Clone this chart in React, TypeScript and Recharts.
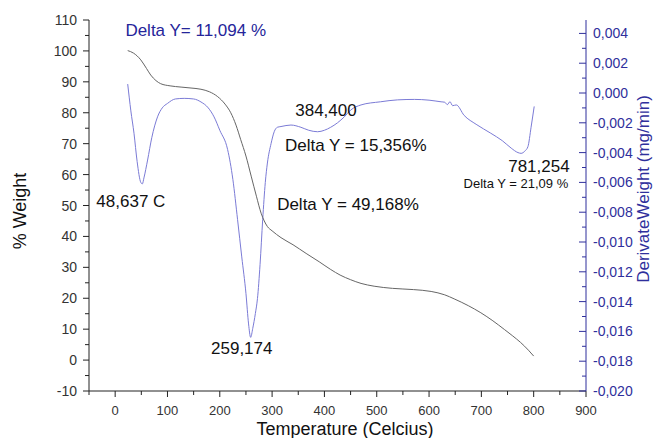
import React from "react";
import { ComposedChart, Line, XAxis, YAxis, ReferenceDot } from "recharts";

// TGA curve (% weight vs temperature)
const tgaTemp = [24, 35, 49, 60, 68, 78, 87, 105, 126, 145, 164, 180, 196, 210, 221, 231, 240, 250, 260, 270, 279, 285, 291, 300, 317, 340, 365, 390, 412, 430, 450, 470, 495, 530, 570, 604, 630, 648, 675, 699, 722, 744, 760, 775, 790, 800];
const tgaWeight = [100.1, 99.3, 97.1, 94.3, 92.2, 90.4, 89.4, 88.7, 88.3, 88, 87.6, 86.8, 85.2, 82.8, 80, 76, 71.3, 66, 59.5, 53, 47.5, 45, 43.2, 41.8, 39.6, 37.3, 34.5, 31.8, 29.3, 27.5, 26, 24.8, 23.9, 23.2, 22.8, 22.2, 21.1, 19.8, 17.6, 15.3, 12.7, 9.9, 7.8, 5.7, 3.2, 1.3];

// DTG curve (derivative weight, mg/min)
const dtgTemp = [24, 30, 36, 42, 49, 52, 55, 62, 70, 81, 90, 100, 115, 132, 150, 164, 178, 189, 200, 215, 225, 234, 242, 250, 255, 259, 263, 268, 272, 277, 282, 287, 291, 298, 304, 310, 317, 336, 355, 370, 387, 400, 412, 425, 438, 450, 470, 507, 540, 572, 600, 623, 630, 635, 640, 645, 652, 667, 690, 718, 740, 757, 770, 776, 783, 789, 795, 801];
const dtgValue = [0.0006, -0.0012, -0.0027, -0.0046, -0.006, -0.0061, -0.0057, -0.0045, -0.003, -0.0016, -0.001, -0.0007, -0.0004, -0.00036, -0.0004, -0.0006, -0.001, -0.0016, -0.0025, -0.0038, -0.0058, -0.0085, -0.011, -0.01345, -0.0155, -0.0164, -0.0158, -0.0148, -0.0138, -0.0115, -0.0085, -0.006, -0.0047, -0.0034, -0.0026, -0.0023, -0.00225, -0.00215, -0.0023, -0.0025, -0.0026, -0.0025, -0.0023, -0.002, -0.0016, -0.00115, -0.0008, -0.00059, -0.00046, -0.00043, -0.00048, -0.00059, -0.00062, -0.00078, -0.00058, -0.00085, -0.0008, -0.0015, -0.0021, -0.0027, -0.0032, -0.0037, -0.004, -0.00405, -0.0039, -0.0036, -0.0023, -0.0009];

// ticks
const X_TICKS = [-50, 0, 50, 100, 150, 200, 250, 300, 350, 400, 450, 500, 550, 600, 650, 700, 750, 800, 850, 900];
const WEIGHT_TICKS = [-10, -5, 0, 5, 10, 15, 20, 25, 30, 35, 40, 45, 50, 55, 60, 65, 70, 75, 80, 85, 90, 95, 100, 105, 110];
const DERIV_TICKS = [-20, -19, -18, -17, -16, -15, -14, -13, -12, -11, -10, -9, -8, -7, -6, -5, -4, -3, -2, -1, 0, 1, 2, 3, 4].map((k) => k / 1000);

// annotations (temperature, % weight axis)
const NOTES = [
    { t: 154, w: 106.8, text: "Delta Y= 11,094 %", blue: true, size: 17 },
    { t: 30, w: 51.6, text: "48,637 C", size: 17 },
    { t: 403, w: 80.9, text: "384,400", size: 17 },
    { t: 460, w: 69.6, text: "Delta Y = 15,356%", size: 17 },
    { t: 810, w: 62.9, text: "781,254", size: 17 },
    { t: 766, w: 57, text: "Delta Y = 21,09 %", size: 13 },
    { t: 445, w: 50.6, text: "Delta Y = 49,168%", size: 17 },
    { t: 242, w: 3.8, text: "259,174", size: 17 },
];

const tgaData = tgaTemp.map((t, i) => ({ t, w: tgaWeight[i] }));
const dtgData = dtgTemp.map((t, i) => ({ t, d: dtgValue[i] }));

const FONT = "'Liberation Sans', Arial, sans-serif";
const BLUE_AXIS = "#2f2f9c";

const XTick = ({ x, y, payload }: any) => {
    const major = payload.value % 100 === 0;
    return (
        <g>
            <line x1={x} x2={x} y1={y} y2={y + (major ? 6 : 4)} stroke="#222" />
            {major && (
                <text x={x} y={y + 19} textAnchor="middle" dominantBaseline="central" fontSize={13} fill="#333" fontFamily={FONT}>
                    {payload.value}
                </text>
            )}
        </g>
    );
};

const WeightTick = ({ x, y, payload }: any) => {
    const major = payload.value % 10 === 0;
    return (
        <g>
            <line x1={x - (major ? 6 : 4)} x2={x} y1={y} y2={y} stroke="#222" />
            {major && (
                <text x={x - 12} y={y} textAnchor="end" dominantBaseline="central" fontSize={14} fill="#333" fontFamily={FONT}>
                    {payload.value}
                </text>
            )}
        </g>
    );
};

const DerivTick = ({ x, y, payload }: any) => {
    const k = Math.round(payload.value * 1000);
    const major = k % 2 === 0;
    return (
        <g>
            <line x1={x - (major ? 7 : 4)} x2={x} y1={y} y2={y} stroke={BLUE_AXIS} />
            {major && (
                <text x={x + 7} y={y} textAnchor="start" dominantBaseline="central" fontSize={14} fill={BLUE_AXIS} fontFamily={FONT}>
                    {(k / 1000).toFixed(3).replace(".", ",")}
                </text>
            )}
        </g>
    );
};

export default function App() {
    return (
        <div style={{ position: "absolute", left: 0, top: 0, background: "#fff" }}>
            <ComposedChart width={654} height={438} margin={{ top: 20, right: 0, left: 0, bottom: 0 }}>
                <XAxis
                    xAxisId="t" type="number" dataKey="t" domain={[-50, 900]} ticks={X_TICKS}
                    allowDataOverflow height={47} tickSize={0} tickMargin={0} tickLine={false}
                    axisLine={{ stroke: "#222" }} tick={<XTick />} interval={0}
                    label={{
                        content: () => (
                            <text x={345} y={429} textAnchor="middle" dominantBaseline="central" fontSize={18} fill="#111" fontFamily={FONT}>
                                Temperature (Celcius)
                            </text>
                        ),
                    }}
                />
                <YAxis
                    yAxisId="w" orientation="left" domain={[-10, 110]} ticks={WEIGHT_TICKS} allowDataOverflow
                    width={89} tickSize={0} tickMargin={0} tickLine={false} interval={0}
                    axisLine={{ stroke: "#222" }} tick={<WeightTick />}
                    label={{
                        content: () => (
                            <text x={20} y={211} transform="rotate(-90 20 211)" textAnchor="middle" dominantBaseline="central" fontSize={18} fill="#111" fontFamily={FONT}>
                                % Weight
                            </text>
                        ),
                    }}
                />
                <YAxis
                    yAxisId="d" orientation="right" domain={[-0.02, 0.0049]} ticks={DERIV_TICKS} allowDataOverflow
                    width={68} tickSize={0} tickMargin={0} tickLine={false} interval={0}
                    axisLine={{ stroke: BLUE_AXIS }} tick={<DerivTick />}
                    label={{
                        content: () => (
                            <text x={643} y={189} transform="rotate(-90 643 189)" textAnchor="middle" dominantBaseline="central" fontSize={17} fill={BLUE_AXIS} fontFamily={FONT}>
                                DerivateWeight (mg/min)
                            </text>
                        ),
                    }}
                />
                <Line
                    xAxisId="t" yAxisId="d" data={dtgData} dataKey="d" type="monotone"
                    stroke="#7b7bd6" strokeWidth={1} dot={false} isAnimationActive={false}
                />
                <Line
                    xAxisId="t" yAxisId="w" data={tgaData} dataKey="w" type="monotone"
                    stroke="#666" strokeWidth={1} dot={false} isAnimationActive={false}
                />
                {NOTES.map((n) => (
                    <ReferenceDot
                        key={n.text} xAxisId="t" yAxisId="w" x={n.t} y={n.w} r={0}
                        fill="none" stroke="none"
                        label={{
                            value: n.text, position: "center", fontSize: n.size,
                            fill: n.blue ? "#25259a" : "#111", fontFamily: FONT,
                        }}
                    />
                ))}
            </ComposedChart>
        </div>
    );
}
